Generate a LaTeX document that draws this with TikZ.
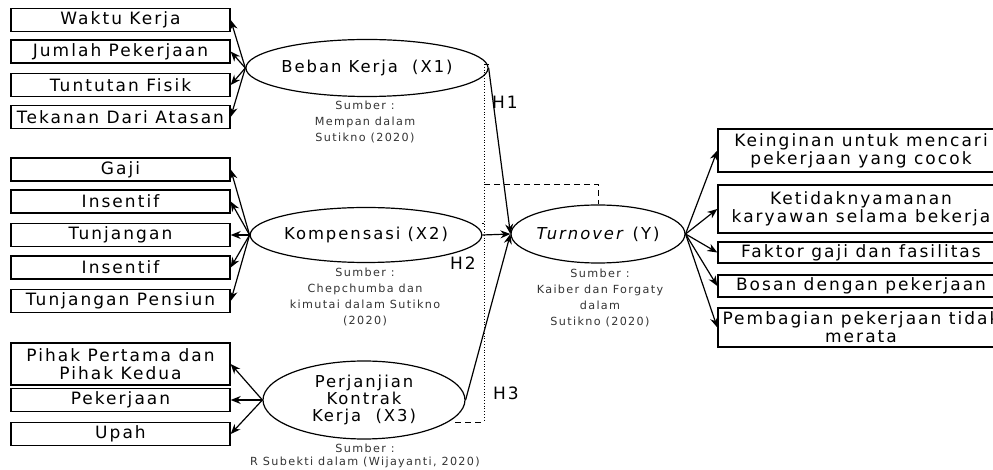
\documentclass[tikz,border=0pt]{standalone}
\usepackage{fontspec}
\setmainfont{DejaVu Sans}[LetterSpace=12]
\usepackage{tikz}
\usetikzlibrary{arrows.meta,positioning,calc,shapes.geometric}
\tikzset{kotak/.style={draw=black,line width=0.7pt,minimum width=109.5pt,minimum height=11.5pt,inner sep=0pt,align=center,font=\fontsize{8.5}{9}\selectfont}}
\tikzset{kanan/.style={kotak,minimum width=143pt}}
\tikzset{var/.style={draw=black,shape=ellipse,inner sep=0pt,align=center,font=\fontsize{8.2}{8.3}\selectfont}}
\tikzset{sumber/.style={align=center,inner sep=0pt,text=black!80,font=\fontsize{5.6}{8}\selectfont}}

\begin{document}
\begin{tikzpicture}[x=0.5pt, y=-0.5pt, >={Stealth[length=5pt,width=4pt]}, semithick]
\tikzstyle{garis}=[dash pattern=on 3pt off 2pt, thin]
    \useasboundingbox (0,0) rectangle (993,470);
    \clip (0,0) rectangle (993,470);

    \node[var,minimum width=100pt,minimum height=28.5pt] (X1) at (367,68) {Beban Kerja\ \ (X1)};
    \node[var,minimum width=99pt,minimum height=27.5pt] (X2) at (366,235) {Kompensasi (X2)};
    \node[var,minimum width=101pt,minimum height=39pt] (X3) at (364,400) {Perjanjian\\Kontrak\\Kerja\ \ (X3)};
    \node[var,minimum width=78.5pt,minimum height=29pt] (Y) at (598,234) {\textit{Turnover} (Y)};

    \node[sumber] (sX1) at (365,122) {Sumber :\\Mempan dalam\\Sutikno (2020)};
    \node[sumber] (sX2) at (365,297) {Sumber :\\Chepchumba dan\\kimutai dalam Sutikno\\(2020)};
    \node[sumber,font=\fontsize{5.6}{6.5}\selectfont] (sX3) at (365,456) {Sumber :\\R Subekti dalam (Wijayanti, 2020)};
    \node[sumber] (sY) at (600,298) {Sumber :\\Kaiber dan Forgaty\\dalam\\Sutikno (2020)};

    \node[kotak] (A1) at (120.5,20) {Waktu Kerja};
    \node[kotak] (A2) at (120.5,51.5) {Jumlah Pekerjaan};
    \node[kotak] (A3) at (120.5,85) {Tuntutan Fisik};
    \node[kotak] (A4) at (120.5,117) {Tekanan Dari Atasan};

    \node[kotak] (B1) at (120.5,169.5) {Gaji};
    \node[kotak] (B2) at (120.5,201.5) {Insentif};
    \node[kotak] (B3) at (120.5,235) {Tunjangan};
    \node[kotak] (B4) at (120.5,267.5) {Insentif};
    \node[kotak] (B5) at (120.5,301) {Tunjangan Pensiun};

    \node[kotak,minimum height=21pt] (C1) at (120.5,364) {Pihak Pertama dan\\Pihak Kedua};
    \node[kotak] (C2) at (120.5,400) {Pekerjaan};
    \node[kotak] (C3) at (120.5,434) {Upah};

    \node[kanan,minimum height=21.5pt] (D1) at (861,150.5) {Keinginan untuk mencari\\pekerjaan yang cocok};
    \node[kanan,minimum height=24pt] (D2) at (861,209) {Ketidaknyamanan\\karyawan selama bekerja};
    \node[kanan,minimum height=10.5pt] (D3) at (861,252.5) {Faktor gaji dan fasilitas};
    \node[kanan,minimum height=11pt] (D4) at (861,286) {Bosan dengan pekerjaan};
    \node[kanan,minimum height=19.5pt] (D5) at (861,327.5) {Pembagian pekerjaan tidak\\merata};

    \node[font=\fontsize{8.5}{9}\selectfont] (H1) at (505,102) {H1};
    \node[font=\fontsize{8.5}{9}\selectfont] (H2) at (463,263) {H2};
    \node[font=\fontsize{8.5}{9}\selectfont] (H3) at (506,393) {H3};

    \path[->] (X1.west) edge (A1.east);
    \path[->] (X1.west) edge (A2.east);
    \path[->] (X1.west) edge (A3.east);
    \path[->] (X1.west) edge (A4.east);

    \path[->] (X2.west) edge (B1.east);
    \path[->] (X2.west) edge (B2.east);
    \path[->] (X2.west) edge (B3.east);
    \path[->] (X2.west) edge (B4.east);
    \path[->] (X2.west) edge (B5.east);

    \path[->] (X3.west) edge (C1.east);
    \path[->] (X3.west) edge (C2.east);
    \path[->] (X3.west) edge (C3.east);

    \path[->] (X1.east) edge (Y.west);
    \path[->] (X2.east) edge (Y.west);
    \path[->] (X3.east) edge (Y.west);

    \path[->] (Y.east) edge (D1.west);
    \path[->] (Y.east) edge (D2.west);
    \path[->] (Y.east) edge (D3.west);
    \path[->] (Y.east) edge (D4.west);
    \path[->] (Y.east) edge (D5.west);

    \coordinate (G1) at (484,64);
    \coordinate (G2) at (484,422);
    \coordinate (G3) at (484,184);
    \coordinate (G4) at (484,223);
    \coordinate (G5) at (455,422);
    \draw[densely dotted,thin] (G1) -- (G2);
    \draw[garis] (X1.east |- G1) -- (G1);
    \draw[garis] (X2.east |- G4) -- (G4);
    \draw[garis] (G5) -- (G2);
    \draw[garis] (G3) -| (Y.north);
\end{tikzpicture}
\end{document}
